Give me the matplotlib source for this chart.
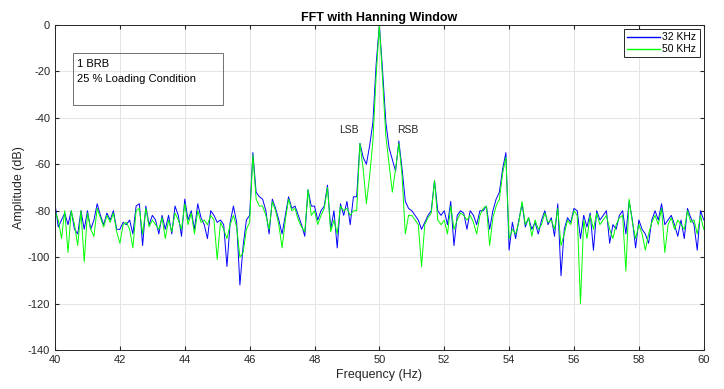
#Recreate the FFT spectrum plot (Hanning window, 1 BRB, 25 % loading)
import matplotlib
matplotlib.use('Agg')
import matplotlib.pyplot as plt
import numpy as np
from matplotlib.patches import Rectangle

plt.rcParams['font.family'] = ['Liberation Sans', 'DejaVu Sans']
plt.rcParams['axes.unicode_minus'] = False

#Frequency axis, 0.1 Hz steps from 40 to 60 Hz
freq = np.round(np.arange(400, 601) * 0.1, 1)

#Amplitude (dB), one row per Hz
amp_32k = [
    -77, -87, -84, -81, -86, -80, -88, -90, -80, -88,   # 40
    -80, -88, -84, -77, -82, -86, -81, -84, -80, -88,   # 41
    -88, -85, -86, -84, -90, -78, -77, -95, -78, -86,   # 42
    -82, -84, -90, -82, -88, -82, -90, -78, -82, -91,   # 43
    -75, -84, -80, -88, -77, -83, -86, -92, -80, -82,   # 44
    -85, -84, -86, -104, -85, -78, -85, -112, -95, -84, # 45
    -82, -55, -72, -74, -75, -80, -90, -75, -79, -84,   # 46
    -90, -82, -74, -79, -78, -82, -86, -91, -71, -78,   # 47
    -78, -84, -80, -78, -69, -88, -80, -96, -77, -82,   # 48
    -76, -86, -74, -74, -51, -57, -60, -52, -42, -17,   # 49
    0, -20, -42, -53, -58, -63, -50, -62, -76, -79,     # 50
    -80, -82, -84, -88, -85, -82, -80, -67, -80, -82,   # 51
    -80, -86, -76, -95, -82, -80, -81, -88, -80, -82,   # 52
    -86, -80, -80, -78, -88, -80, -75, -72, -62, -55,   # 53
    -97, -85, -92, -84, -77, -87, -83, -88, -85, -90,   # 54
    -84, -80, -86, -83, -91, -77, -108, -88, -83, -85,  # 55
    -79, -80, -92, -82, -87, -81, -97, -80, -84, -82,   # 56
    -80, -94, -86, -88, -82, -80, -90, -76, -84, -96,   # 57
    -84, -88, -90, -94, -84, -80, -84, -77, -86, -84,   # 58
    -82, -86, -91, -84, -92, -79, -83, -86, -97, -80,   # 59
    -84]

amp_50k = [
    -80, -84, -92, -80, -98, -80, -86, -95, -80, -102,  # 40
    -81, -88, -91, -79, -83, -87, -82, -85, -81, -89,   # 41
    -94, -86, -85, -88, -96, -80, -79, -90, -79, -87,   # 42
    -84, -86, -88, -83, -92, -84, -89, -81, -84, -88,   # 43
    -77, -86, -81, -90, -80, -85, -84, -86, -82, -84,   # 44
    -101, -85, -88, -92, -86, -82, -87, -100, -98, -88, # 45
    -85, -56, -75, -78, -78, -82, -88, -76, -80, -86,   # 46
    -96, -84, -75, -80, -79, -84, -87, -89, -71, -82,   # 47
    -80, -86, -82, -79, -70, -89, -84, -90, -78, -80,   # 48
    -79, -82, -80, -80, -51, -62, -77, -65, -50, -22,   # 49
    0, -24, -48, -60, -72, -62, -51, -65, -90, -82,     # 50
    -82, -84, -86, -104, -86, -83, -81, -67, -84, -86,  # 51
    -84, -90, -78, -88, -84, -81, -82, -84, -82, -85,   # 52
    -90, -82, -79, -78, -95, -83, -78, -75, -64, -57,   # 53
    -92, -88, -90, -85, -76, -86, -83, -91, -84, -88,   # 54
    -86, -81, -85, -84, -88, -79, -95, -90, -84, -86,   # 55
    -80, -82, -120, -84, -92, -82, -88, -81, -86, -84,  # 56
    -82, -88, -92, -86, -83, -82, -106, -75, -85, -92,  # 57
    -86, -90, -97, -90, -85, -82, -86, -79, -98, -86,   # 58
    -83, -88, -84, -86, -88, -80, -85, -84, -90, -82,   # 59
    -88]

fig = plt.figure(figsize=(7.24, 3.89), dpi=100)
ax = fig.add_axes([0.076, 0.100, 0.896, 0.836])

ax.plot(freq, amp_32k, color='#0000ff', linewidth=0.7, label='32 KHz')
ax.plot(freq, amp_50k, color='#00ff00', linewidth=0.7, label='50 KHz')

ax.set_xlim(40, 60)
ax.set_ylim(-140, 0)
ax.set_xticks(np.arange(40, 61, 2))
ax.set_yticks(np.arange(-140, 1, 20))
ax.grid(True, color='#e4e4e4', linewidth=0.7)
ax.set_axisbelow(True)
ax.tick_params(direction='in', length=3, labelsize=8, colors='#262626',
               top=True, right=True)
for side in ax.spines.values():
    side.set_color('#262626')
    side.set_linewidth(0.7)

ax.set_title('FFT with Hanning Window', fontsize=9, fontweight='bold', pad=3)
ax.set_xlabel('Frequency (Hz)', fontsize=9, labelpad=3, color='#262626')
ax.set_ylabel('Amplitude (dB)', fontsize=9, labelpad=2, color='#262626')

#Annotation box top left
ax.add_patch(Rectangle((0.028, 0.754), 0.231, 0.160, transform=ax.transAxes,
                       fill=False, edgecolor='#707070', linewidth=0.7))
ax.text(0.034, 0.880, '1 BRB', transform=ax.transAxes, fontsize=8, va='center')
ax.text(0.034, 0.835, '25 % Loading Condition', transform=ax.transAxes,
        fontsize=8, va='center')

ax.text(49.06, -45.3, 'LSB', fontsize=7.5, ha='center', va='center', color='#262626')
ax.text(50.88, -45.3, 'RSB', fontsize=7.5, ha='center', va='center', color='#262626')

leg = ax.legend(loc='upper right', fontsize=7.5, fancybox=False, handlelength=3.2,
                handletextpad=0.2, borderpad=0.3, labelspacing=0.2,
                borderaxespad=0.4, framealpha=1)
leg.get_frame().set_edgecolor('#262626')
leg.get_frame().set_linewidth(0.7)
for handle in leg.get_lines():
    handle.set_linewidth(1.0)

fig.savefig('out.png', dpi=100)
